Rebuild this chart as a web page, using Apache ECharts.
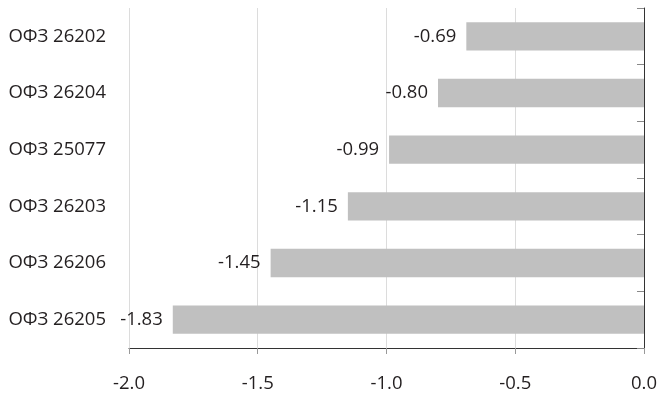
<!DOCTYPE html>
<html><head><meta charset="utf-8">
<script src="https://cdn.jsdelivr.net/npm/echarts@6/dist/echarts.min.js"></script>
<style>html,body{margin:0;padding:0;background:#fff}#c{width:660px;height:399px}</style>
</head><body><div id="c"></div>
<script>
const categories = ["ОФЗ 26202", "ОФЗ 26204", "ОФЗ 25077", "ОФЗ 26203", "ОФЗ 26206", "ОФЗ 26205"];
const values = [-0.69, -0.80, -0.99, -1.15, -1.45, -1.83];
const xTicks = { min: -2, max: 0, interval: 0.5 };

const FONT = "Open Sans";
const chart = echarts.init(document.getElementById('c'), null, { renderer: 'canvas' });
chart.setOption({
  animation: false,
  backgroundColor: '#fff',
  grid: { left: 129, right: 16, top: 8, bottom: 51, containLabel: false },
  xAxis: {
    type: 'value', min: xTicks.min, max: xTicks.max, interval: xTicks.interval,
    axisLine: { show: true, onZero: false, lineStyle: { color: '#333', width: 1 } },
    axisTick: { show: true, length: 6, lineStyle: { color: '#999' } },
    splitLine: { show: true, lineStyle: { color: '#dcdcdc', width: 1 } },
    axisLabel: { color: '#231f20', fontFamily: FONT, fontSize: 18.5, margin: 26,
      formatter: v => v.toFixed(1) }
  },
  yAxis: [
    { type: 'category', data: categories, inverse: true, position: 'left',
      axisLine: { show: false }, axisTick: { show: false },
      axisLabel: { color: '#231f20', fontFamily: FONT, fontSize: 18.5, margin: 23, padding: [3, 0, 0, 0] } },
    { type: 'category', data: categories, inverse: true, position: 'right',
      axisLine: { show: true, onZero: false, lineStyle: { color: '#333', width: 1 } },
      axisTick: { show: true, inside: true, length: 7, lineStyle: { color: '#888' } },
      axisLabel: { show: false } }
  ],
  series: [{
    type: 'bar', yAxisIndex: 0, data: values, barWidth: '50%',
    itemStyle: { color: '#c0c0c0' },
    label: { show: true, position: 'left', distance: 10, color: '#231f20',
      fontFamily: FONT, fontSize: 18.5, formatter: p => p.value.toFixed(2) }
  }]
});
</script></body></html>
